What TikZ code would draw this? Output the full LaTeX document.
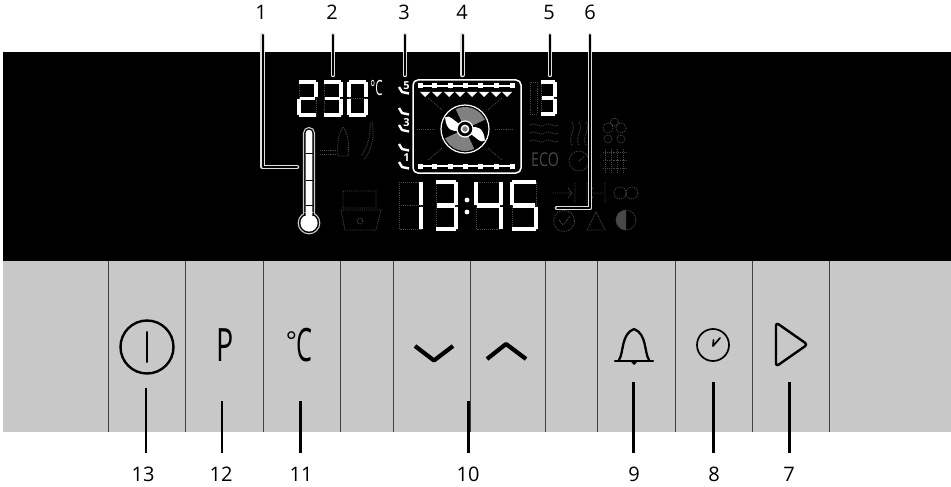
\documentclass[tikz,border=0pt]{standalone}
\usepackage{fontspec}
\setmainfont{Open Sans}
\usetikzlibrary{calc}
\definecolor{panelgray}{HTML}{C8C8C8}
\definecolor{dimc}{HTML}{484848}
\tikzset{
 x=1pt,y=-1pt,
 lbl/.style={font=\fontsize{20}{20}\selectfont,inner sep=0pt,text=black},
 halo/.style={draw=white!88!black,line width=4.6pt,line cap=round,line join=round},
 core/.style={draw=black,line width=2pt,line cap=round,line join=round},
 blk/.style={draw=black,line width=2.2pt},
 dim/.style={draw=dimc,line width=.9pt,densely dotted},
 lit/.style={draw=white,line width=#1,line cap=butt},
 lit/.default=3pt,
 icon/.style={draw=black,line width=#1,line cap=round,line join=round},
 icon/.default=2pt,
 divider/.style={draw=black!75,line width=1pt}
}
\newcommand{\segdigit}[6]{% x y w h litlist width
 \begin{scope}[shift={(#1,#2)}]
 \def\W{#3}\def\Hh{#4}
 \pgfmathsetmacro\Mid{\Hh/2}
 \def\sega{(0,0)--(\W,0)}
 \def\segb{(\W,0)--(\W,\Mid-1)}
 \def\segc{(\W,\Mid+1)--(\W,\Hh)}
 \def\segd{(0,\Hh)--(\W,\Hh)}
 \def\sege{(0,\Mid+1)--(0,\Hh)}
 \def\segf{(0,0)--(0,\Mid-1)}
 \def\segg{(1,\Mid)--(\W-1,\Mid)}
 \draw[dim] (0,0) rectangle (\W,\Hh) (0,\Mid)--(\W,\Mid);
 \foreach \s in {#5}{
  \expandafter\let\expandafter\pp\csname seg\s\endcsname
  \draw[lit=#6] \pp;
 }
 \end{scope}}
\begin{document}
\begin{tikzpicture}
\useasboundingbox (0,0) rectangle (951,487);
\fill[panelgray] (3,261) rectangle (951,432);
\fill[black] (3,52) rectangle (951,261);
% dividers
\foreach \x in {108,185,263,340,393,470,545,597,675,752,829}
 \draw[divider] (\x,261)--(\x,432);
% temperature digits
\segdigit{299}{82}{17}{33}{a,b,g,e,d}{3.6pt}
\segdigit{324}{82}{17}{33}{a,b,g,c,d}{3.6pt}
\segdigit{349}{82}{17}{33}{a,b,c,d,e,f}{3.6pt}
\node[font=\fontsize{21}{21}\selectfont,text=white,inner sep=0pt] (deg) at (376.5,88) {\scalebox{.55}[1]{°C}};
\segdigit{541}{82}{14}{32}{a,b,g,c,d}{3.6pt}
\draw[dim] (530,82) rectangle (537,114);
% clock digits
\segdigit{399}{182}{22}{47}{b,c}{4.6pt}
\segdigit{436}{182}{20}{47}{a,b,g,c,d}{4.6pt}
\fill[white] (467,200) circle (2.4) (467,212) circle (2.4);
\segdigit{476}{182}{25}{47}{f,g,b,c}{4.6pt}
\segdigit{512}{182}{24}{47}{a,f,g,c,d}{4.6pt}
% thermometer
\draw[white!80!black,line width=1.1pt,fill=black] (303.5,133) arc (180:360:5.5) -- (314.5,216) -- (303.5,216) -- cycle;
\draw[white!80!black,line width=1.1pt,fill=black] (309,223) circle (10.8);
\fill[white] (309,223) circle (8.6);
\fill[black] (304,213) rectangle (314,216);
\fill[white] (305.7,133) arc (180:360:3.3) -- (312.3,217) -- (305.7,217) -- cycle;
\foreach \y in {153,180,205} \draw[black,line width=1pt] (305.5,\y)--(312.5,\y);
% oven
\draw[white,line width=1.5pt,rounded corners=5] (413,80) rectangle (521,173);
\draw[white,line width=2pt] (419,86)--(514,86) (419,166)--(514,166);
\foreach \x in {420,434,450,465,480,496,512} {
 \fill[white] (\x-2.5,83.5) rectangle (\x+2.5,88.5);
 \fill[white] (\x-2.5,163.5) rectangle (\x+2.5,168.5);
}
\foreach \x in {425,437,449,460,472,484,496,507} \fill[white] (\x-5,92)--(\x+5,92)--(\x,97)--cycle;
\foreach \a in {40,0,-40,140,180,220} \draw[dim] ($(465,129)+(\a:30)$)--($(465,129)+(\a:48)$);
% fan
\draw[white,line width=1.2pt,fill=black] (465,129) circle (24);
\foreach \a in {-70,110} \fill[gray] (465,129) -- ($(465,129)+(\a-45:22)$) arc (\a-45:\a+45:22) -- cycle;
\foreach \a in {15,195} \fill[white] ($(465,129)+(\a+30:6)$) .. controls ($(465,129)+(\a+20:16)$) and ($(465,129)+(\a+30:21)$) .. ($(465,129)+(\a+15:23)$) .. controls ($(465,129)+(\a-20:19)$) and ($(465,129)+(\a-30:12)$) .. ($(465,129)+(\a-30:6)$) -- cycle;
\draw[white,line width=1.2pt,fill=black] (465,129) circle (8);
\draw[white,line width=1.5pt,fill=gray] (465,129) circle (3.6);
% shelf levels
\foreach \y in {93,114,131,150,168} \draw[white,line width=2.4pt] (399,\y-6)--(402,\y-1)--(409,\y+.5);
\foreach \y/\t in {86/5,123/3,158/1} \node[font=\fontsize{11}{11}\selectfont\bfseries,text=white,inner sep=0pt] (s\t) at (406.5,\y) {\t};
% dim icons
\draw[dim] (320,150)--(337,150) (320,154)--(337,154);
\draw[dim] (338,156) .. controls (336,140) and (341,130) .. (343,127) .. controls (347,132) and (350,142) .. (348,156) -- cycle;
\draw[dim] (362,155) .. controls (368,145) and (371,135) .. (370,122);
\draw[dim] (372,122) .. controls (375,135) and (372,150) .. (364,160);
\draw[dim] (343,191) rectangle (376,208) (341,210)--(381,210)--(376,230)--(345,230)--cycle;
\draw[dim] (360,221) circle (3);
\foreach \y in {125,133,141} \draw[dim] (530,\y) .. controls (535,\y-4) and (540,\y+4) .. (545,\y) .. controls (550,\y-4) and (555,\y+4) .. (559,\y);
\node[font=\fontsize{19}{19}\selectfont,text=dimc,inner sep=0pt] (eco) at (545,160) {\scalebox{.75}[1]{ECO}};
\foreach \x in {572,579,586} \draw[dim] (\x,122) .. controls (\x+5,130) and (\x-5,136) .. (\x,145);
\draw[dim] (579,161) circle (10) (579,161)--(585,156);
\draw[dim] (608,128) circle (5) (621,128) circle (5) (608,139) circle (4) (621,139) circle (4) (614.5,122) circle (4);
\foreach \x in {605,611,617,623} \draw[dim] (\x,149)--(\x,172);
\foreach \y in {152,160,168} \draw[dim] (603,\y)--(627,\y);
\draw[dim] (553,193)--(572,193) (568,188)--(572,193)--(568,198) (575,183)--(575,203);
\draw[dim] (589,193)--(603,193) (593,188)--(589,193)--(593,198) (587,183)--(587,203) (605,183)--(605,203);
\draw[dim] (620,193) circle (6) (632,193) circle (6);
\draw[dim] (564,221) circle (10.5) (559,220)--(563,225)--(570,216);
\draw[dim] (587,230)--(596,212)--(605,230)--cycle;
\draw[dim] (626,220) circle (10);
\fill[dimc] (626,230) arc (90:270:10) -- cycle;
% keys
\draw[icon=2.4pt] (147,347) circle (26.5);
\draw[icon=2pt] (147,332)--(147,362);
\node[inner sep=0pt,font=\fontsize{46}{46}\selectfont] (keyp) at (225,345) {\scalebox{.62}[1]{P}};
\node[inner sep=0pt,font=\fontsize{46}{46}\selectfont] (keyc) at (299,345) {\raisebox{11pt}{\fontsize{26}{26}\selectfont °}\kern-1pt\scalebox{.55}[1]{C}};
\draw[icon=4.2pt,line cap=butt] (415,346)--(434,360.5)--(453,346);
\draw[icon=4.2pt,line cap=butt] (487,359)--(506,344)--(526,359);
\draw[icon=2.3pt] (615,361)--(653,361);
\draw[icon=2.3pt] (619,360) .. controls (624,352) and (621,334) .. (634,329) .. controls (647,334) and (644,352) .. (649,360);
\fill[black] (631,362) -- (637,362) -- (634,365) -- cycle;
\draw[icon=1.7pt] (713,345) circle (16);
\draw[icon=1.7pt] (713,346)--(720,338) (713.5,340)--(713,346);
\draw[icon=2.4pt,rounded corners=3] (776,322.5)--(807.5,344.5)--(776,366.5)--cycle;
% labels
\foreach \n/\x in {1/261,2/332,3/404,4/462,5/549,6/590}
 \node[lbl] (t\n) at (\x,12) {\n};
\foreach \n/\x in {13/143,12/221,11/301,10/468,9/634,8/714,7/789}
 \node[lbl] (t\n) at (\x,474) {\n};
% leader ends
\coordinate (a1) at (262.5,35); \coordinate (k1) at (262.5,167); \coordinate (b1) at (297,167);
\coordinate (a2) at (333,35); \coordinate (b2) at (333,75);
\coordinate (a3) at (405,35); \coordinate (b3) at (405,75);
\coordinate (a4) at (462.5,35); \coordinate (b4) at (462.5,75);
\coordinate (a5) at (550,35); \coordinate (b5) at (550,75);
\coordinate (a6) at (590,35); \coordinate (k6) at (590,208); \coordinate (b6) at (557,208);
\foreach \n in {2,3,4,5} \draw[halo] (a\n)--(b\n);
\draw[halo] (a1)--(k1)--(b1);
\draw[halo] (a6)--(k6)--(b6);
\foreach \n in {2,3,4,5} \draw[core] (a\n)--(b\n);
\draw[core] (a1)--(k1)--(b1);
\draw[core] (a6)--(k6)--(b6);
\coordinate (a13) at (146,388); \coordinate (b13) at (146,453);
\coordinate (a12) at (222,401); \coordinate (b12) at (222,453);
\coordinate (a11) at (300.5,401); \coordinate (b11) at (300.5,453);
\coordinate (a10) at (468.5,401); \coordinate (b10) at (468.5,453);
\coordinate (a9) at (633.5,382); \coordinate (b9) at (633.5,453);
\coordinate (a8) at (713.5,382); \coordinate (b8) at (713.5,453);
\coordinate (a7) at (789.5,382); \coordinate (b7) at (789.5,453);
\foreach \n in {13,12,11,10,9,8,7} \draw[blk] (a\n)--(b\n);
\end{tikzpicture}
\end{document}
